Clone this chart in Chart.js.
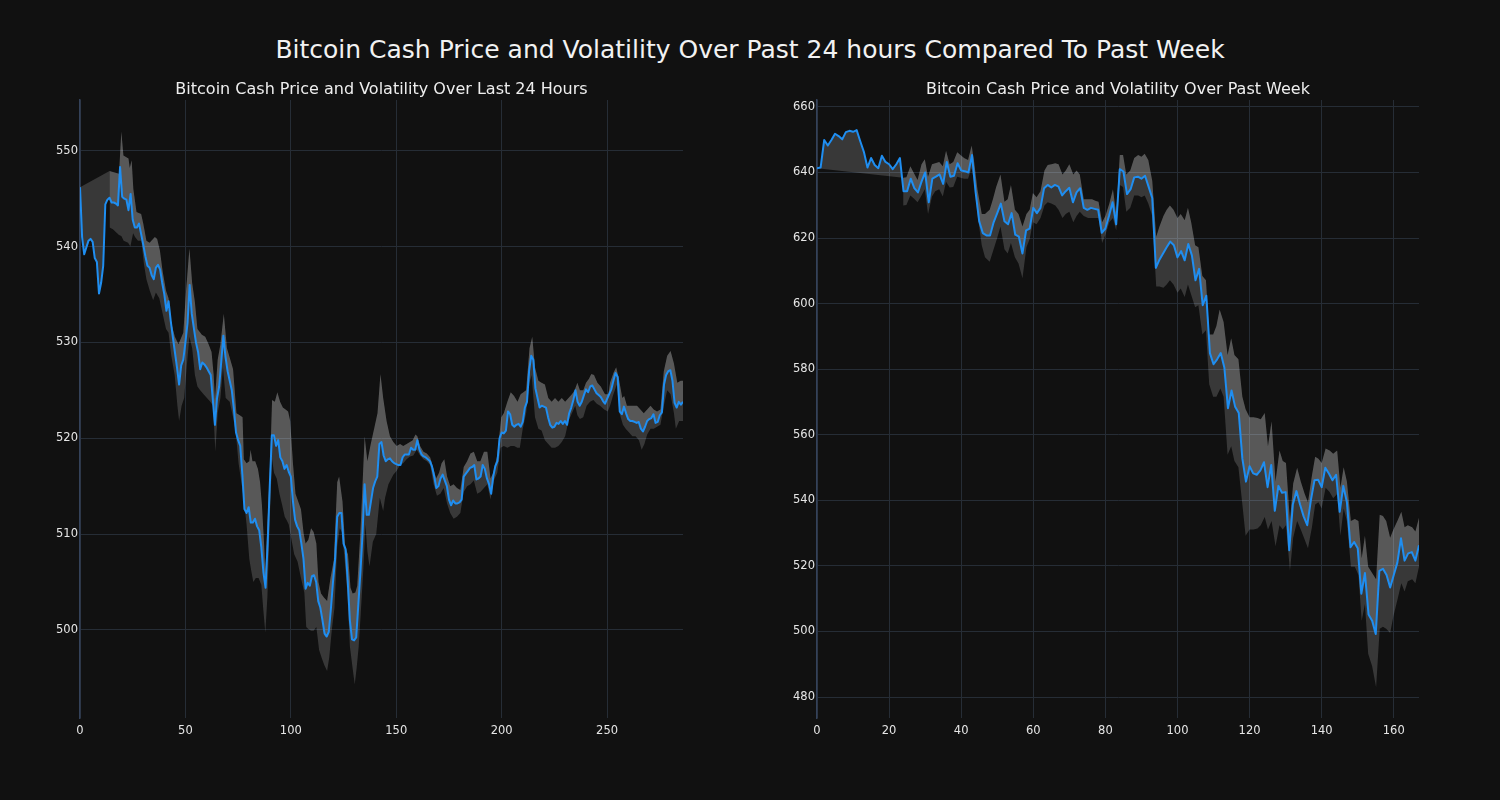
<!DOCTYPE html>
<html>
<head>
<meta charset="utf-8">
<script src="https://cdn.jsdelivr.net/npm/chart.js@4.4.1/dist/chart.umd.min.js"></script>
<style>
  body { margin: 0; background: #111111; width: 1500px; height: 800px; overflow: hidden; font-family: "DejaVu Sans", sans-serif; }
  canvas { position: absolute; top: 80px; }
  .title { position: absolute; left: 0; width: 1500px; top: 37px; text-align: center; color: #f2f2f2; font-size: 25px; line-height: 1; }
  .sub { position: absolute; top: 81px; text-align: center; color: #eeeeee; font-size: 16px; line-height: 1; }
</style>
</head>
<body>
<canvas id="chartDay" width="720" height="720" style="left:0px"></canvas>
<canvas id="chartWeek" width="720" height="720" style="left:740px"></canvas>
<div class="title">Bitcoin Cash Price and Volatility Over Past 24 hours Compared To Past Week</div>
<div class="sub" style="left:80px;width:603px">Bitcoin Cash Price and Volatility Over Last 24 Hours</div>
<div class="sub" style="left:817px;width:602px">Bitcoin Cash Price and Volatility Over Past Week</div>
<script>
// price, one value per step (24h chart: 0..286, week chart: 0..167)
const priceDay = [
  546.2, 541.0, 539.2, 539.9, 540.6, 540.8, 540.5, 538.8, 538.4, 535.1,
  536.2, 538.0, 544.4, 544.9, 545.1, 544.6, 544.6, 544.5, 544.3, 548.3,
  545.2, 545.0, 544.9, 543.8, 545.5, 542.8, 542.0, 542.0, 542.4, 541.3,
  540.2, 539.0, 538.0, 537.8, 537.0, 536.6, 537.8, 538.1, 537.6, 536.2,
  535.0, 533.3, 534.3, 532.3, 530.6, 529.0, 527.4, 525.6, 527.6, 528.2,
  530.0, 532.0, 536.0, 533.0, 531.5, 530.0, 529.0, 527.2, 527.9, 527.7,
  527.4, 527.0, 526.6, 524.0, 521.4, 524.2, 525.4, 528.0, 530.7, 528.5,
  527.0, 526.0, 525.0, 523.0, 520.6, 519.8, 519.2, 516.2, 512.6, 512.2,
  512.8, 511.2, 511.2, 511.6, 510.8, 510.4, 508.6, 506.0, 504.4, 509.0,
  515.0, 520.3, 520.3, 519.2, 519.8, 518.0, 517.6, 516.8, 517.2, 516.5,
  516.0, 513.4, 511.5, 510.8, 510.4, 509.0, 507.4, 504.3, 504.9, 504.6,
  505.6, 505.7, 505.0, 503.0, 502.3, 501.0, 499.6, 499.3, 499.8, 502.2,
  505.0, 507.4, 511.8, 512.2, 512.2, 509.0, 508.4, 505.0, 501.0, 499.0,
  498.9, 499.2, 502.6, 506.0, 510.0, 515.2, 512.0, 512.0, 513.4, 514.8,
  515.5, 516.0, 519.4, 519.6, 518.2, 517.6, 517.8, 517.9, 517.6, 517.4,
  517.3, 517.2, 517.2, 518.0, 518.3, 518.3, 518.3, 519.0, 518.8, 518.8,
  519.8, 518.8, 518.3, 518.1, 518.0, 517.8, 517.6, 517.0, 516.0, 514.8,
  515.0, 515.8, 516.2, 515.6, 515.0, 513.6, 513.0, 513.5, 513.2, 513.2,
  513.3, 513.6, 516.0, 516.3, 516.6, 516.9, 517.0, 517.2, 515.7, 515.8,
  516.0, 517.2, 516.8, 515.8, 515.2, 514.2, 516.0, 517.1, 517.6, 520.0,
  520.6, 520.5, 520.8, 522.8, 522.5, 521.4, 521.2, 521.4, 521.5, 521.2,
  521.7, 523.2, 523.8, 527.0, 528.6, 528.2, 525.2, 524.2, 523.2, 523.4,
  523.3, 523.2, 522.2, 521.4, 521.1, 521.2, 521.6, 521.5, 521.8, 521.5,
  521.8, 521.4, 522.6, 523.2, 524.0, 525.0, 523.8, 523.4, 523.8, 524.5,
  525.1, 524.8, 525.4, 525.5, 525.1, 524.7, 524.5, 524.3, 523.9, 523.6,
  524.1, 524.6, 525.1, 526.0, 526.8, 526.4, 522.8, 522.5, 523.3, 522.6,
  522.0, 521.8, 521.8, 521.7, 521.6, 521.7, 521.0, 520.7, 521.2, 521.8,
  522.0, 522.1, 522.5, 521.6, 521.7, 522.4, 522.7, 525.6, 526.6, 527.0,
  527.1, 526.0, 523.7, 523.2, 523.8, 523.5, 523.8
]

const priceWeek = [
  641.3, 641.5, 649.9, 648.2, 649.9, 651.8, 651.1, 650.1, 652.3, 652.7,
  652.4, 652.9, 649.5, 646.3, 641.5, 644.4, 642.3, 641.3, 645.1, 643.2,
  642.5, 641.0, 642.5, 644.4, 634.3, 634.3, 638.1, 635.2, 633.9, 637.2,
  640.0, 630.9, 638.1, 638.7, 639.4, 636.5, 643.2, 638.7, 639.0, 642.8,
  640.6, 640.4, 640.0, 645.3, 634.0, 625.1, 621.5, 620.8, 620.8, 624.8,
  627.6, 630.5, 625.1, 624.2, 627.6, 621.0, 620.4, 615.3, 622.3, 622.9,
  629.2, 627.6, 629.2, 635.2, 636.2, 635.4, 636.2, 635.7, 633.0, 634.3,
  635.3, 630.9, 633.9, 635.2, 629.2, 628.6, 629.2, 628.9, 628.6, 621.6,
  622.9, 626.7, 630.9, 624.2, 641.0, 640.3, 633.4, 634.9, 638.5, 638.7,
  638.1, 639.0, 635.6, 632.2, 610.9, 613.4, 615.3, 617.2, 618.9, 617.8,
  614.1, 616.0, 613.2, 618.2, 614.7, 607.1, 610.6, 599.5, 602.4, 584.9,
  581.5, 583.0, 584.9, 580.5, 568.1, 573.5, 568.5, 566.6, 552.7, 545.7,
  550.4, 548.2, 547.8, 549.1, 551.6, 544.0, 550.8, 536.8, 544.4, 542.3,
  542.5, 524.8, 538.7, 542.8, 538.7, 535.1, 532.4, 540.0, 546.1, 546.3,
  544.0, 549.9, 548.2, 546.1, 547.8, 536.5, 544.4, 539.4, 525.7, 527.3,
  525.4, 511.5, 517.8, 505.2, 503.3, 499.2, 518.5, 519.1, 517.2, 513.4,
  517.2, 521.0, 528.4, 521.6, 523.8, 524.2, 521.6, 526.3
]

// volatility band edges, [x, value]
const upperDay = [
  [0, 546.2], [14, 547.9], [18.5, 547.6], [19.6, 552], [20.6, 549.5], [23, 549.2], [23.6, 548.2], [24.5, 549],
  [25.3, 546], [26.8, 543.6], [29, 543.4], [30, 542.4], [31.5, 540.6], [33, 540.4], [35.5, 541], [36.6, 540.8],
  [37.9, 539.6], [39.2, 537.4], [40.8, 535.4], [42, 534.6], [43.3, 532], [45, 530.6], [46.7, 529.8], [49, 531],
  [50.3, 535.4], [51.9, 539.8], [53.2, 536.2], [54.5, 534.2], [55.7, 531.4], [57.8, 530.8], [59.4, 530.6], [61, 529.8],
  [62.4, 529], [63.4, 526.6], [64, 524], [65.3, 528.2], [66.6, 529.8], [68.2, 533], [69.7, 529.4], [71.3, 528.2],
  [72.6, 527.2], [74.2, 522.6], [75.8, 522.4], [77.1, 522.2], [77.7, 517.8], [79, 517.4], [80.3, 517.6], [80.9, 518.8],
  [81.8, 517.6], [83.1, 517.6], [84.4, 516.8], [85.4, 515.4], [86.3, 513], [87.3, 509], [87.9, 506], [90.1, 517],
  [91.1, 524], [92.4, 523.8], [93.6, 524.8], [94.9, 523.8], [96.2, 523.2], [97.5, 523], [98.7, 522.8], [99.7, 521.8],
  [101, 517.4], [102.2, 514.2], [103.5, 513.4], [104.8, 512.6], [106.1, 510], [107, 509], [108.3, 509.4], [109.6, 510.6],
  [110.8, 510.2], [112.1, 509], [113.1, 505], [114.3, 503.8], [115.6, 503.4], [117.2, 503], [118.8, 505.4], [120.4, 507.3],
  [122, 515.4], [122.9, 516], [124.5, 513.4], [125.8, 508.6], [127.1, 507.9], [128.3, 504.4], [129.3, 503.8], [130.6, 503.9],
  [131.5, 504.6], [133.1, 510.6], [135, 520.2], [136.3, 517.6], [137.9, 519.4], [139.5, 521], [141.1, 522.6], [142.5, 526.7],
  [143.8, 524.2], [145.4, 521.8], [147, 520.2], [148.6, 519.6], [150.2, 519.2], [151.8, 519.4], [153.3, 519.2], [154.9, 519.4],
  [156.5, 519.6], [157.8, 519.8], [159.1, 520.4], [160, 520.2], [161.3, 519.2], [162.9, 518.6], [164.5, 518.4], [166.1, 518],
  [167.7, 516.8], [168.9, 515.8], [170.3, 516.4], [171.5, 517.4], [172.8, 517.8], [174.1, 516], [175.6, 515], [177.2, 515.2],
  [178.8, 514.8], [180.4, 514.6], [182, 517], [183.6, 517.6], [185.2, 518.4], [186.8, 518.6], [188.4, 517.6], [189.9, 517.6],
  [191.6, 518.6], [193.2, 518.6], [194.7, 515.8], [196, 516.4], [197.9, 518.2], [199.8, 522.2], [201, 522.6], [202.7, 523.8],
  [204.3, 524.8], [205.9, 524.4], [207.5, 523.8], [209, 524.6], [211.6, 525], [213.2, 529.4], [214.5, 530.6], [215.8, 527.4],
  [217.4, 526], [218.9, 525.8], [220.5, 525.6], [222.1, 524.2], [223.7, 523.8], [225.3, 524.2], [226.9, 523.8], [228.5, 524.2],
  [230.1, 523.8], [231.7, 524.2], [233.3, 524.6], [234.6, 525], [235.9, 525.8], [237.1, 525], [238.7, 525], [240, 525.8],
  [241.4, 526.2], [242.5, 526.7], [243.8, 526.6], [245.4, 525.8], [247, 525.4], [249, 524.6], [250.6, 524.6], [251.4, 525.8],
  [253, 526.8], [254.3, 527.4], [255.6, 526.2], [257.2, 524.2], [258.1, 524.4], [259.4, 523.4], [261, 523.4], [262.6, 523.4],
  [264.2, 523.4], [265.8, 523], [267.4, 522.6], [269, 523], [270.6, 523.4], [272.1, 523], [273.7, 522.8], [275.3, 523],
  [276.9, 527], [278.5, 528.6], [280.1, 529.1], [281.7, 527.8], [283.3, 525.8], [284.9, 526], [286, 526]
]

const lowerDay = [
  [14, 542], [15.6, 541.8], [18.5, 541.2], [19.6, 541.1], [20.7, 540.6], [22.8, 540.4], [23.9, 540], [25.2, 541.4],
  [26.1, 541], [27.5, 540.6], [29.1, 540.6], [30.3, 538.2], [31.5, 536.6], [33.1, 535.4], [34.7, 534.4], [36, 535.2],
  [37.6, 534.6], [39.2, 533], [40.8, 531.4], [42, 531], [43.3, 528.6], [44.9, 526.6], [46.2, 523.4], [47, 521.8],
  [48.2, 523.4], [49.4, 524.2], [50.6, 527.4], [51.9, 530.6], [53.2, 529.4], [54.5, 526.6], [55.7, 525.4], [57, 525],
  [58.6, 524.6], [60.2, 524.2], [61.8, 523.8], [63.1, 523.4], [64.2, 518.6], [65.3, 522.6], [66.6, 524.2], [67.8, 527.4],
  [69.1, 524.2], [71, 523.8], [72.6, 522.2], [73.9, 520.6], [75.2, 517.4], [76.8, 515], [78, 513], [79, 511],
  [80.3, 507.4], [81.2, 506.2], [82.2, 505], [83.4, 505.4], [84.7, 505.4], [86, 504.7], [86.9, 502.2], [87.9, 499.7],
  [88.9, 503.5], [90.1, 512.2], [91.1, 517.8], [92, 516.4], [93.3, 515.8], [94.6, 514.2], [95.9, 513], [97.1, 511.8],
  [98.1, 511.4], [99, 511], [100.3, 509.4], [101.6, 507.9], [103.2, 507.1], [104.8, 505.4], [106.4, 503.9], [107.3, 500.3],
  [108.3, 500.1], [109.6, 499.9], [110.8, 499.9], [112.1, 500.3], [113.4, 497.9], [114.6, 497.1], [115.9, 496.3], [117.2, 495.7],
  [118.2, 497.1], [119.4, 499.9], [120.7, 502.3], [122, 508.7], [123.2, 510.6], [124.2, 510.2], [125.5, 507.4], [126.8, 503.9],
  [128, 498.3], [129.3, 496], [130.3, 494.3], [131.2, 496], [132.2, 498.3], [133.1, 501.5], [134.4, 506.4], [135.4, 511],
  [136.3, 508.2], [137.3, 506.6], [138.9, 509.2], [140.5, 510], [142.2, 513.8], [143.8, 512.4], [144.7, 513.8], [146.3, 515.2],
  [148.6, 516.2], [150.2, 516.6], [151.8, 517.2], [153.3, 517.4], [154.9, 517.8], [156.5, 518.1], [158.1, 518.2], [159.7, 518.8],
  [161.3, 518.2], [162.9, 517.8], [164.5, 517.6], [166.1, 517.2], [167.7, 515.2], [169.3, 514], [170.9, 514.2], [172.5, 514.8],
  [174.1, 513.2], [175.6, 512.2], [177.2, 511.6], [178.8, 511.8], [180.4, 512.2], [182, 514.4], [183.6, 515], [185.2, 515.2],
  [186.8, 515.6], [188.4, 514.2], [189.9, 514.4], [191.6, 514.8], [193.2, 515.2], [194.7, 513.6], [196.3, 515.6], [197.9, 516.4],
  [199.5, 519], [201, 519.2], [202.7, 519], [204.3, 519.2], [205.9, 519.2], [207.5, 519], [208.6, 519], [210, 521],
  [211.6, 522.6], [213.2, 525.8], [214.2, 526.6], [215.8, 522.2], [217.4, 521], [218.9, 520.8], [220.5, 519.8], [222.1, 519.4],
  [223.7, 519], [225.3, 519], [226.9, 519.2], [228.5, 519.6], [230.1, 520.2], [231.7, 521.8], [233.3, 522.6], [234.9, 523.4],
  [235.9, 522.4], [237.1, 522], [238.7, 522.2], [240.3, 523.4], [241.9, 523.8], [243.5, 524], [245.1, 523.6], [246.7, 523.4],
  [248.6, 523], [250.3, 522.8], [251.4, 523.4], [253, 524.6], [254.6, 525.6], [255.9, 522.6], [257.5, 521.4], [258.8, 521],
  [260.4, 520.6], [262, 520.2], [263.5, 520.2], [265.1, 519.8], [266.4, 518.8], [267.7, 519.4], [269, 520.4], [270.6, 521],
  [272.1, 521], [273.7, 521.2], [275.3, 521.4], [276.9, 523.4], [278.5, 525], [280.1, 524.6], [281.7, 522.6], [282.6, 521],
  [284.2, 521.8], [286, 521.8]
]

const upperWeek = [
  [0, 641.3], [23.9, 638.4], [24.8, 638.5], [25.9, 641.9], [26.8, 640], [27.9, 637.7], [29, 642.5], [29.9, 644],
  [30.8, 638.7], [31.9, 642.5], [32.8, 642.8], [33.9, 643.2], [34.9, 641.9], [35.8, 646.6], [36.8, 642.5], [37.8, 643.2],
  [38.9, 646.2], [40.8, 644.4], [41.9, 643.8], [42.9, 648.2], [43.6, 643.2], [44.5, 634.9], [45.7, 627.3], [46.6, 627.3],
  [47.9, 628.6], [48.8, 631.8], [49.7, 635.6], [50.9, 639.4], [52, 631.1], [52.9, 631.8], [53.8, 636.2], [54.9, 628.6],
  [55.9, 627.3], [57, 623.5], [58.1, 627.3], [59, 628.6], [59.9, 633.7], [60.9, 632.4], [62, 634.3], [63.1, 640.6],
  [64, 642.3], [65, 642.5], [66.1, 642.8], [67, 642.5], [68.1, 639.4], [69, 640.6], [70, 642.5], [71.1, 639.4],
  [72, 640.6], [72.9, 639.4], [74, 631.8], [75.2, 631.8], [76.3, 631.8], [77.2, 631.4], [78.1, 631.1], [79.1, 624.8],
  [80, 626.7], [81.1, 630.5], [82.1, 634.9], [83, 627.3], [84, 645.3], [84.9, 645.3], [85.8, 639.4], [86.9, 640.6],
  [88, 644.4], [89.1, 645.3], [90, 644.8], [90.9, 645.7], [91.9, 643.8], [93, 637.5], [94.1, 620.4], [95, 623.5],
  [96.1, 626.7], [97, 628.6], [97.9, 629.9], [98.9, 628.6], [100, 626.1], [100.9, 627.3], [102, 625.4], [102.9, 629.2],
  [103.8, 624.8], [104.9, 617.8], [105.8, 617.2], [106.9, 608.4], [107.9, 607.1], [108.8, 590.6], [109.9, 590.6], [110.8, 593.2],
  [111.7, 598.2], [112.8, 594.4], [113.9, 584.3], [114.9, 589.4], [115.8, 584.3], [116.9, 583], [118, 571.6], [118.9, 567.8],
  [120, 565.3], [121.1, 565.3], [122.2, 565.1], [123.1, 564.7], [124.2, 566.6], [125.1, 556.5], [126.1, 564.1], [127.2, 545.7],
  [128.3, 555.2], [129.2, 552], [130.1, 551.4], [131.2, 533.7], [132.1, 545.1], [133.2, 549.9], [134.2, 545.7], [135.3, 541.9],
  [136.2, 539.4], [137.3, 547.6], [138.2, 553.3], [139.1, 552.7], [140, 551.4], [141.1, 555.8], [142.2, 555.2], [143.2, 554.2],
  [144.3, 555.2], [145.2, 543.8], [146.1, 550.1], [147, 545.7], [148.1, 533.7], [149.2, 534.3], [150.2, 533.7], [151.1, 522.3],
  [152, 529.2], [152.9, 519.7], [154, 517.8], [155.1, 515.9], [156.1, 535.6], [157, 535.2], [157.9, 533.7], [159, 528.6],
  [159.9, 531.1], [161, 533.7], [162.1, 536.5], [163, 531.8], [163.9, 532.4], [165.1, 531.8], [166, 530.5], [167, 534.7]
]

const lowerWeek = [
  [23.9, 629.9], [24.8, 630.1], [25.9, 633], [26.8, 632.1], [27.9, 630.9], [29, 633], [29.9, 634.9], [30.8, 627.3],
  [31.9, 632.7], [32.8, 634.3], [33.9, 634.9], [34.9, 632.7], [35.8, 637.2], [36.8, 635.4], [37.8, 635.6], [38.9, 638.7],
  [40.8, 638.1], [41.9, 638.1], [42.9, 641.3], [43.6, 636.8], [44.5, 627.3], [45.7, 617.8], [46.6, 614.1], [47.9, 612.8],
  [49, 616.6], [49.9, 619.7], [50.9, 623.5], [52, 616.6], [52.9, 615.3], [53.8, 618.5], [54.9, 614.1], [55.9, 612.2],
  [57, 607.7], [58.1, 617.2], [59, 619.7], [59.9, 624.8], [60.9, 624.2], [62, 626.1], [63.1, 629.9], [64, 630.9],
  [65, 630.5], [66.1, 629.9], [67, 628.6], [68.1, 626.1], [69, 627.3], [70, 628], [71.1, 624.8], [72, 626.7],
  [72.9, 628], [74, 626.7], [75.2, 626.1], [76.3, 626.1], [77.2, 626.1], [78.1, 626.1], [79.1, 618.5], [80, 621],
  [81.1, 624.8], [82.1, 626.1], [83, 622.3], [84, 636.2], [84.9, 635.6], [85.8, 628], [86.9, 629.2], [88, 633],
  [89.1, 633], [90, 632.4], [90.9, 633], [91.9, 630.5], [93, 626.7], [94.1, 605.2], [95, 605.2], [96.1, 604.8],
  [97, 605.8], [97.9, 607.1], [98.9, 605.8], [100, 603.3], [100.9, 604.6], [102, 602], [102.9, 605.8], [103.8, 602.7],
  [104.9, 598.9], [105.8, 599.5], [106.9, 590.6], [107.9, 591.9], [108.8, 575.4], [109.9, 571.6], [110.8, 571.6], [111.9, 574.1],
  [112.8, 571.6], [113.9, 553.9], [114.9, 556.5], [115.8, 552], [116.9, 550.1], [118, 538.7], [118.9, 529.2], [120, 531.1],
  [121.1, 531.1], [122.2, 531.4], [123.1, 532.4], [124.2, 534.9], [125.1, 531.1], [126.1, 533.7], [127.2, 526], [128.3, 532.4],
  [129.2, 531.1], [130.1, 532.4], [131.2, 518.5], [132.1, 528.6], [133.2, 533.7], [134.2, 531.1], [135.3, 528], [136.2, 525.4],
  [137.3, 531.8], [138.2, 538.7], [139.1, 539.4], [140, 537.5], [141.1, 543.8], [142.2, 542.5], [143.2, 540.6], [144.3, 541.9],
  [145.2, 529.2], [146.1, 537.5], [147, 533.7], [148.1, 519.7], [149.2, 519.7], [150.2, 517.2], [151.1, 503.3], [152, 508.4],
  [152.9, 493.2], [154, 489.4], [155.1, 483], [156.1, 500.8], [157, 501.4], [157.9, 500.8], [159, 499.5], [159.9, 504.6],
  [161, 509.6], [162.1, 514.7], [163, 512.2], [163.9, 515.3], [165.1, 515.9], [166, 514.7], [167, 519.7]
]

const GRID = '#262d36'
const SPINE = '#34425a'
const TICK = '#e6e6e6'
const BAND = 'rgba(255,255,255,0.165)'
const LINE = '#1f8ef1'

const asPoints = vals => vals.map((v, i) => ({ x: i, y: v }))
const asPairs = list => list.map(p => ({ x: p[0], y: p[1] }))

function makeChart(id, price, upper, lower, opts) {
  return new Chart(document.getElementById(id), {
    type: 'line',
    data: {
      datasets: [
        { data: asPoints(price), borderColor: LINE, borderWidth: 2, pointRadius: 0, fill: false, borderJoinStyle: 'round' },
        // upper edge to price
        { data: asPairs(upper), borderWidth: 0, pointRadius: 0, backgroundColor: BAND, fill: '-1' },
        // lower edge to upper edge
        { data: asPairs(lower), borderWidth: 0, pointRadius: 0, backgroundColor: BAND, fill: '-1' },
      ],
    },
    options: {
      responsive: false,
      animation: false,
      devicePixelRatio: 1,
      layout: { padding: { top: 20, right: opts.padRight, left: 0, bottom: 0 } },
      plugins: { legend: { display: false }, tooltip: { enabled: false } },
      scales: {
        x: {
          type: 'linear', min: 0, max: opts.xMax,
          ticks: { stepSize: opts.xStep, color: TICK, font: { family: 'DejaVu Sans', size: 11.5 }, padding: 6, maxRotation: 0, includeBounds: false },
          grid: { color: GRID, drawTicks: false },
          border: { display: false },
          afterFit: s => { s.height = 82 },
        },
        y: {
          type: 'linear', min: opts.yMin, max: opts.yMax,
          ticks: { stepSize: opts.yStep, color: TICK, font: { family: 'DejaVu Sans', size: 11.5 }, padding: 2, includeBounds: false },
          grid: { color: GRID, drawTicks: false },
          border: { display: true, color: SPINE, width: 1.5 },
          afterFit: s => { s.width = opts.axisWidth },
        },
      },
    },
  })
}

makeChart('chartDay', priceDay, upperDay, lowerDay, { xMax: 286, xStep: 50, yMin: 490.8, yMax: 555.3, yStep: 10, axisWidth: 80, padRight: 37 })
makeChart('chartWeek', priceWeek, upperWeek, lowerWeek, { xMax: 167, xStep: 20, yMin: 473.6, yMax: 662.1, yStep: 20, axisWidth: 77, padRight: 41 })
</script>
</body>
</html>
